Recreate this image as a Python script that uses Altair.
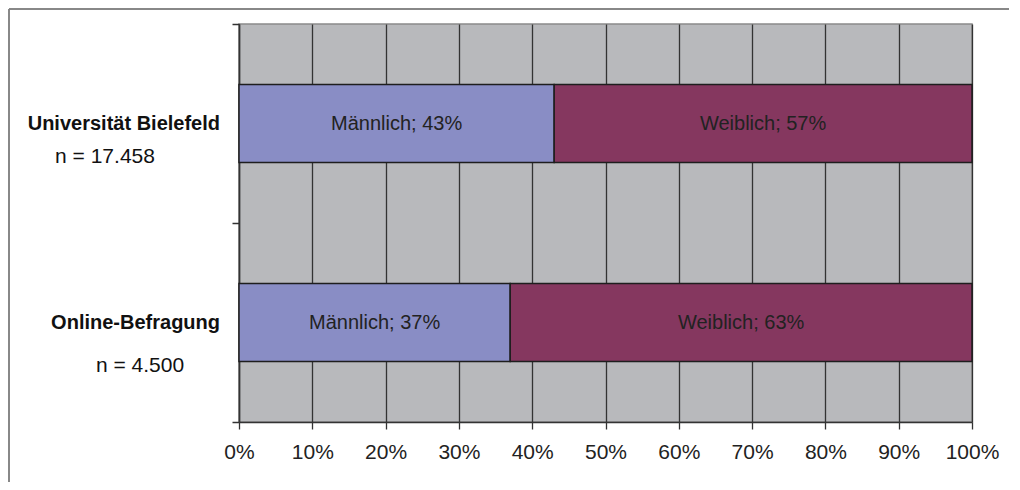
import altair as alt
import pandas as pd

groups = ["Universität Bielefeld", "Online-Befragung"]
n_labels = ["n = 17.458", "n = 4.500"]
genders = ["Männlich", "Weiblich"]
maennlich = [43, 37]
weiblich = [57, 63]
x_ticks = [0, 10, 20, 30, 40, 50, 60, 70, 80, 90, 100]

rows = []
for g, m, w in zip(groups, maennlich, weiblich):
    rows.append({"group": g, "gender": "Männlich", "start": 0, "end": m, "value": m})
    rows.append({"group": g, "gender": "Weiblich", "start": m, "end": m + w, "value": w})
df = pd.DataFrame(rows)
df["mid"] = (df["start"] + df["end"]) / 2
df["label"] = df["gender"] + "; " + df["value"].astype(str) + "%"

lab_df = pd.DataFrame({"group": groups, "n": n_labels})

FONT = "Liberation Sans"

y_enc = alt.Y(
    "group:N",
    sort=groups,
    scale=alt.Scale(paddingInner=0, paddingOuter=0),
    axis=alt.Axis(
        labels=False, title=None, tickBand="extent", tickSize=7,
        tickColor="#333333", domainColor="#333333", domainWidth=1.5,
        tickWidth=1.5, grid=False,
    ),
)

x_scale = alt.Scale(domain=[0, 100], nice=False)
x_axis = alt.Axis(
    values=x_ticks, labelExpr="datum.value + '%'", title=None,
    grid=True, gridColor="#333333", gridWidth=1.3,
    tickColor="#333333", tickSize=7, tickWidth=1.3,
    domainColor="#333333", domainWidth=1.5,
    labelFont=FONT, labelFontSize=21, labelColor="#222222", labelPadding=12,
    labelFlush=False, labelOverlap=False,
)

bars = alt.Chart(df).mark_bar(
    height=alt.RelativeBandSize(0.392), stroke="#1e1e1e", strokeWidth=1.5
).encode(
    x=alt.X("start:Q", scale=x_scale, axis=x_axis),
    x2="end:Q",
    y=y_enc,
    color=alt.Color(
        "gender:N",
        scale=alt.Scale(domain=genders, range=["#898DC5", "#85375F"]),
        legend=None,
    ),
)

bar_text = alt.Chart(df).mark_text(
    font=FONT, fontSize=20, color="#222222"
).encode(
    x=alt.X("mid:Q", scale=x_scale),
    y=alt.Y("group:N", sort=groups),
    text="label:N",
)

group_text = alt.Chart(lab_df).mark_text(
    font=FONT, fontSize=20, fontWeight="bold", color="#111111", align="right"
).encode(
    x=alt.value(-19),
    y=alt.Y("group:N", sort=groups),
    text="group:N",
)

n_text1 = alt.Chart(lab_df).transform_filter(
    alt.datum.group == groups[0]
).mark_text(font=FONT, fontSize=21, color="#111111", dy=33).encode(
    x=alt.value(-134),
    y=alt.Y("group:N", sort=groups),
    text="n:N",
)

n_text2 = alt.Chart(lab_df).transform_filter(
    alt.datum.group == groups[1]
).mark_text(font=FONT, fontSize=21, color="#111111", dy=43).encode(
    x=alt.value(-99),
    y=alt.Y("group:N", sort=groups),
    text="n:N",
)

frame_left = alt.Chart(lab_df).mark_rule(color="#808080", strokeWidth=1.5).encode(
    x=alt.value(-230), y=alt.value(-15), y2=alt.value(480)
)
frame_top = alt.Chart(lab_df).mark_rule(color="#808080", strokeWidth=1.5).encode(
    x=alt.value(-230), x2=alt.value(770), y=alt.value(-15)
)

chart = alt.layer(
    bars, bar_text, group_text, n_text1, n_text2, frame_left, frame_top
).properties(
    width=733, height=398,
    autosize=alt.AutoSizeParams(type="none"),
    padding={"left": 231, "top": 16, "right": 40, "bottom": 60},
    background="white",
).configure_view(
    fill="#B8B9BC", stroke="#8A8A8A", strokeWidth=1.5
)

chart.save("out.html", embed_options={"renderer": "svg", "actions": False})
